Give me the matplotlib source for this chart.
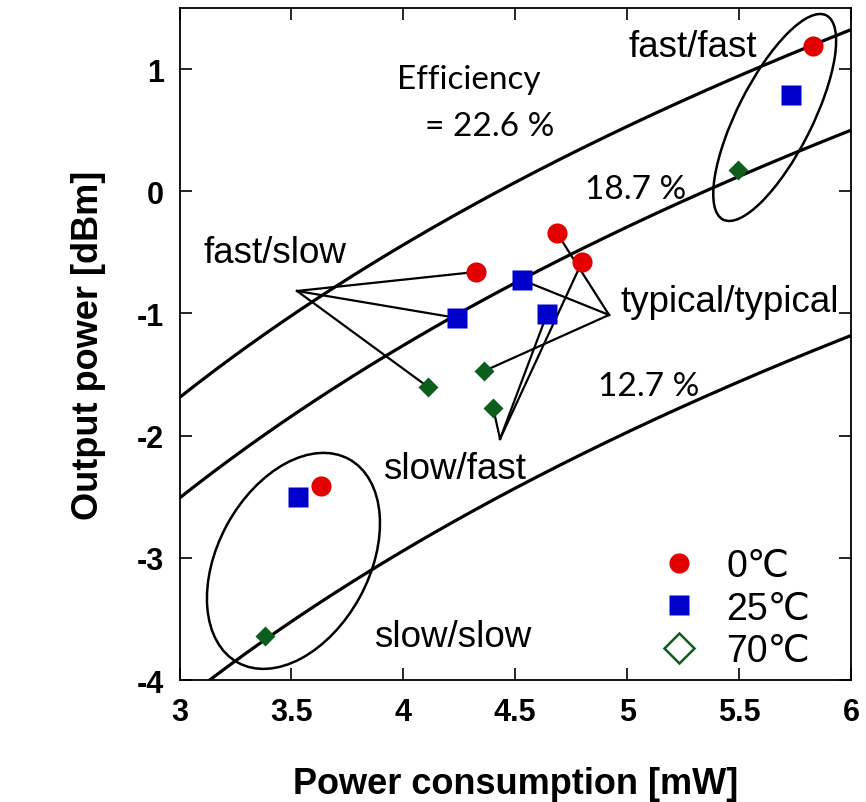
import numpy as np
import matplotlib
matplotlib.use('Agg')
import matplotlib.pyplot as plt
import matplotlib.transforms as mtransforms
from matplotlib.patches import Ellipse
from matplotlib.lines import Line2D

plt.rcParams['axes.unicode_minus'] = False

# corners in order: fast/fast, typical/typical, slow/fast, fast/slow, slow/slow
red_x = [5.831, 4.686, 4.798, 4.325, 3.632]      # 0 C
red_y = [1.189, -0.341, -0.579, -0.660, -2.412]
blue_x = [5.732, 4.530, 4.642, 4.240, 3.529]     # 25 C
blue_y = [0.788, -0.726, -1.004, -1.037, -2.502]
green_x = [5.496, 4.361, 4.401, 4.110, 3.382]    # 70 C
green_y = [0.174, -1.471, -1.773, -1.601, -3.639]

efficiencies = [0.226, 0.187, 0.127]
temp_labels = ['0\u2103', '25\u2103', '70\u2103']

red = '#e30000'
blue = '#0000cc'
green = '#0b5e1c'

fig = plt.figure(figsize=(8.66, 8.03), dpi=100)
ax = fig.add_axes([0.2073, 0.1519, 0.7754, 0.8369])
ax.set_xlim(3, 6)
ax.set_ylim(-4, 1.5)

# iso-efficiency curves: Pout = eff * Pin
p_in = np.linspace(3, 6, 200)
for eff in efficiencies:
    ax.plot(p_in, 10 * np.log10(eff * p_in), color='black', lw=2.3, zorder=2)

# connector lines from the corner labels to the points
hubs = {1: (4.919, -1.012), 2: (4.432, -2.027), 3: (3.525, -0.816)}
for i, (hx, hy) in hubs.items():
    for xs, ys in [(red_x, red_y), (blue_x, blue_y), (green_x, green_y)]:
        ax.plot([hx, xs[i]], [hy, ys[i]], color='black', lw=1.6, zorder=2)

# ellipses drawn in pixel units around fast/fast and slow/slow
sx = 671.5 / 3.0
sy = 672.0 / 5.5
for (cx, cy), a, b, ang in [((5.659, 0.604), 114.4, 37.4, 63.2),
                            ((3.509, -3.025), 115.9, 75.6, 61.4)]:
    tr = mtransforms.Affine2D().scale(1 / sx, 1 / sy).translate(cx, cy) + ax.transData
    ax.add_patch(Ellipse((0, 0), 2 * a, 2 * b, angle=ang, fill=False,
                         ec='black', lw=1.8, transform=tr, zorder=2))

ax.plot(red_x, red_y, 'o', color=red, ms=14.5, mec='none', zorder=4)
ax.plot(blue_x, blue_y, 's', color=blue, ms=15, mec='none', zorder=4)
ax.plot(green_x, green_y, 'D', color=green, ms=10, mec='none', zorder=4)

txt = dict(fontsize=26.5, family=['Liberation Sans', 'DejaVu Sans'], va='center', ha='left')
ax.text(5.008, 1.181, 'fast/fast', **txt)
ax.text(4.968, -0.906, 'typical/typical', **txt)
ax.text(3.909, -2.272, 'slow/fast', **txt)
ax.text(3.105, -0.505, 'fast/slow', **txt)
ax.text(3.869, -3.647, 'slow/slow', **txt)

eff_txt = dict(fontsize=24, family=['Lato', 'DejaVu Sans'], va='center', ha='left')
ax.text(3.972, 0.919, 'Efficiency', **eff_txt)
ax.text(4.097, 0.534, '= 22.6 %', **eff_txt)
ax.text(4.812, 0.019, '18.7 %', **eff_txt)
ax.text(4.870, -1.593, '12.7 %', **eff_txt)

handles = [Line2D([], [], ls='none', marker='o', color=red, ms=14.5, mec='none'),
           Line2D([], [], ls='none', marker='s', color=blue, ms=15, mec='none'),
           Line2D([], [], ls='none', marker='D', mfc='white', mec=green, mew=1.8, ms=15)]
ax.legend(handles, temp_labels, loc='lower right', bbox_to_anchor=(0.967, -0.012),
          frameon=False, borderpad=0, handlelength=2.0, handletextpad=0.25,
          labelspacing=0.18,
          prop={'family': ['Liberation Sans', 'DejaVu Sans'], 'size': 27})

ax.set_xticks([3, 3.5, 4, 4.5, 5, 5.5, 6])
ax.set_xticklabels(['3', '3.5', '4', '4.5', '5', '5.5', '6'])
ax.set_yticks([-4, -3, -2, -1, 0, 1])
ax.tick_params(direction='in', length=8.5, width=1.2, top=True, right=True,
               labelsize=22)
ax.tick_params(axis='x', pad=12)
ax.tick_params(axis='y', pad=11)
for lab in ax.get_xticklabels() + ax.get_yticklabels():
    lab.set_fontweight('bold')
    lab.set_family('Liberation Sans')
for sp in ax.spines.values():
    sp.set_linewidth(1.3)

ax.set_xlabel('Power consumption [mW]', fontsize=26, fontweight='bold',
              family='Liberation Sans', labelpad=28)
ax.set_ylabel('Output power [dBm]', fontsize=26, fontweight='bold',
              family='Liberation Sans', labelpad=22)

fig.savefig('out.png', dpi=100)
